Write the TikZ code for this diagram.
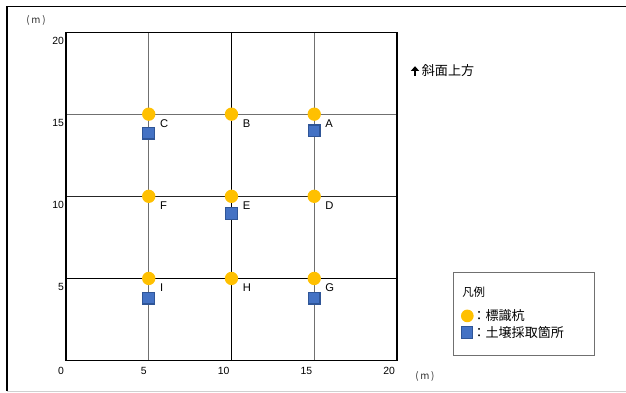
\documentclass[tikz,border=0pt]{standalone}
\usepackage{fontspec}
\setmainfont{Liberation Sans}
\newfontfamily\jpfont{Noto Sans CJK JP}
\usetikzlibrary{arrows.meta}
\definecolor{ink}{HTML}{000000}
\definecolor{stakeY}{HTML}{FFC000}
\definecolor{soilB}{HTML}{4472C4}
\definecolor{soilE}{HTML}{2F5597}
\definecolor{gridG}{HTML}{707070}
\definecolor{frameG}{HTML}{D0D0D0}
\tikzset{
  stake/.style={circle, fill=stakeY, inner sep=0pt, minimum size=10pt},
  soil/.style={rectangle, fill=soilB, draw=soilE, line width=0.9pt, inner sep=0pt, minimum size=8.8pt},
  ptlbl/.style={anchor=west, inner sep=0pt, font=\fontsize{8.4}{8}\selectfont, text=ink},
  numlbl/.style={inner sep=0pt, font=\fontsize{7.8}{8}\selectfont, text=ink},
  jplbl/.style={anchor=west, inner sep=0pt, font=\jpfont\fontsize{9.8}{10}\selectfont, text=ink},
  unitlbl/.style={inner sep=0pt, font=\jpfont\fontsize{7.4}{7}\selectfont, text=ink!80},
}

\begin{document}
\begin{tikzpicture}[x=0.4363cm, y=0.4331cm]
\useasboundingbox (-3.988,-1.966) rectangle (33.84,21.95);
% frame of the sheet
\draw[ink, line width=0.9pt] (33.9,21.56) -- (-3.565,21.56) -- (-3.565,-1.875);
\draw[frameG, line width=1pt] (-3.565,-1.875) -- (33.9,-1.875);
% grid
\draw[gridG, line width=0.75pt] (5,0) -- (5,20);
\draw[ink, line width=0.75pt] (10,0) -- (10,20);
\draw[gridG, line width=0.75pt] (15,0) -- (15,20);
\draw[gridG, line width=0.9pt] (0,15) -- (20,15);
\draw[ink!85, line width=0.75pt] (0,10) -- (20,10);
\draw[ink, line width=0.75pt] (0,5) -- (20,5);
\draw[ink, line width=0.8pt] (0,0) rectangle (20,20);
% axis numbers
\node[numlbl, anchor=north east] (x0) at ([xshift=-1.3pt, yshift=-4.5pt]0,0) {0};
\node[numlbl, anchor=north east] (x5) at ([xshift=-1.3pt, yshift=-4.5pt]5,0) {5};
\node[numlbl, anchor=north east] (x10) at ([xshift=-1.3pt, yshift=-4.5pt]10,0) {10};
\node[numlbl, anchor=north east] (x15) at ([xshift=-1.3pt, yshift=-4.5pt]15,0) {15};
\node[numlbl, anchor=north east] (x20) at ([xshift=-1.3pt, yshift=-4.5pt]20,0) {20};
\node[numlbl, anchor=north east] (y5) at ([xshift=-1.3pt, yshift=-3.5pt]0,5) {5};
\node[numlbl, anchor=north east] (y10) at ([xshift=-1.3pt, yshift=-3.5pt]0,10) {10};
\node[numlbl, anchor=north east] (y15) at ([xshift=-1.3pt, yshift=-3.5pt]0,15) {15};
\node[numlbl, anchor=north east] (y20) at ([xshift=-1.3pt, yshift=-3.5pt]0,20) {20};
\node[unitlbl] (unitY) at (-1.81,20.68) {(\,m\,)};
\node[unitlbl] (unitX) at (21.69,-0.99) {(\,m\,)};
% soil sampling spots
\node[soil] (soilC) at (5,13.84) {};
\node[soil] (soilA) at (15,13.98) {};
\node[soil] (soilE) at (10,8.95) {};
\node[soil] (soilI) at (5,3.80) {};
\node[soil] (soilG) at (15,3.80) {};
% stakes
\foreach \nm/\px/\py in {A/15/15, B/10/15, C/5/15, D/15/10, E/10/10, F/5/10, G/15/5, H/10/5, I/5/5} {
  \node[stake] (dot\nm) at (\px,\py) {};
  \node[ptlbl] (lab\nm) at ([xshift=8.25pt, yshift=-7pt]dot\nm.center) {\nm};
}
% slope direction
\coordinate (upS) at (21.09,17.33);
\coordinate (upE) at (21.09,17.92);
\draw[ink, line width=2pt, -{Triangle[width=6pt, length=3.5pt]}] (upS) -- (upE);
\node[jplbl] (upLbl) at (21.49,17.63) {斜面上方};
% legend
\draw[gridG, line width=1.1pt] (23.40,0.30) rectangle (31.92,5.36);
\node[jplbl, font=\jpfont\fontsize{8.6}{9}\selectfont] (legT) at (23.93,4.16) {凡例};
\node[stake, minimum size=9.5pt] (legStake) at (24.25,2.72) {};
\node[soil] (legSoil) at (24.23,1.70) {};
\node[jplbl] (legStakeT) at (24.55,2.72) {：標識杭};
\node[jplbl] (legSoilT) at (24.55,1.70) {：土壌採取箇所};
\end{tikzpicture}
\end{document}
